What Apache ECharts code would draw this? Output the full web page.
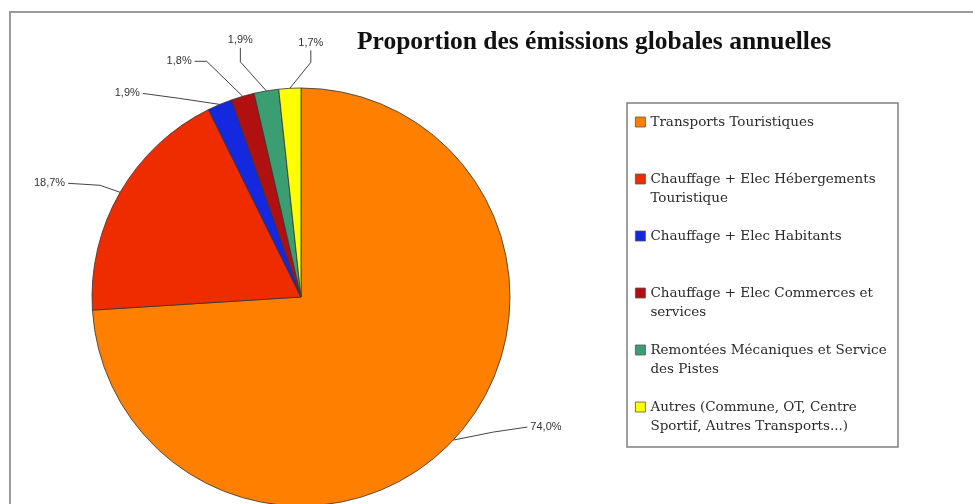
<!DOCTYPE html>
<html>
<head>
<meta charset="utf-8">
<script src="https://cdn.jsdelivr.net/npm/echarts@6/dist/echarts.min.js"></script>
<style>html,body{margin:0;padding:0;background:#fff;}#c{width:973px;height:504px;}</style>
</head>
<body>
<div id="c"></div>
<script>
var categories = [
  'Transports Touristiques',
  'Chauffage + Elec Hébergements Touristique',
  'Chauffage + Elec Habitants',
  'Chauffage + Elec Commerces et services',
  'Remontées Mécaniques et Service des Pistes',
  'Autres (Commune, OT, Centre Sportif, Autres Transports...)'
];
var legendLines = [
  ['Transports Touristiques', ''],
  ['Chauffage + Elec Hébergements', 'Touristique'],
  ['Chauffage + Elec Habitants', ''],
  ['Chauffage + Elec Commerces et', 'services'],
  ['Remontées Mécaniques et Service', 'des Pistes'],
  ['Autres (Commune, OT, Centre', 'Sportif, Autres Transports...)']
];
var values = [74.0, 18.7, 1.9, 1.8, 1.9, 1.7];
var colors = ['#FF8000', '#EE2C00', '#1428E0', '#B01010', '#3A9E72', '#FFFF00'];
var titleText = 'Proportion des émissions globales annuelles';

// label guide styling (offsets from the library's arc anchor point)
var labelGuides = [
  { end: [74, -13], elbow: [40, -8], align: 'left' },
  { end: [-52, -9], elbow: [-20, -7], align: 'right' },
  { end: [-77, -11], elbow: [-40, -6], align: 'right' },
  { end: [-48, -35], elbow: [-36, -35], align: 'right' },
  { end: [-26, -43], elbow: [-26, -29], align: 'center' },
  { end: [21, -38], elbow: [21, -26], align: 'center' }
];

var chart = echarts.init(document.getElementById('c'), null, { renderer: 'canvas' });
var LH = 19;
var data = categories.map(function (n, i) {
  return { name: n, value: values[i], itemStyle: { color: colors[i] } };
});
var option = {
  animation: false,
  backgroundColor: '#fff',
  title: {
    text: titleText,
    left: 352, top: 24,
    textStyle: { fontFamily: 'Liberation Serif', fontWeight: 'bold', fontSize: 25.5, color: '#111' }
  },
  graphic: [
    { type: 'rect', z: -10, shape: { x: 10, y: 12, width: 1200, height: 1000 }, style: { fill: 'none', stroke: '#9a9a9a', lineWidth: 2 } },
    { type: 'rect', z: -5, shape: { x: 627, y: 103, width: 271, height: 344 }, style: { fill: '#fff', stroke: '#808080', lineWidth: 1.5 } }
  ],
  legend: {
    orient: 'vertical',
    left: 635, top: 122 - 1.5 * LH,
    padding: 0,
    itemGap: 0,
    itemWidth: 10, itemHeight: 10,
    icon: 'rect',
    selectedMode: false,
    data: categories,
    formatter: function (name) {
      var l = legendLines[categories.indexOf(name)];
      return ' \n' + l[0] + '\n' + (l[1] || ' ');
    },
    itemStyle: { borderColor: '#555', borderWidth: 0.8 },
    textStyle: { fontFamily: 'DejaVu Serif', fontSize: 13.5, color: '#2a2a2a', lineHeight: LH }
  },
  series: [{
    type: 'pie',
    center: [301, 297],
    radius: 209,
    startAngle: 90,
    clockwise: true,
    avoidLabelOverlap: false,
    emphasis: { disabled: true },
    itemStyle: { borderColor: '#333', borderWidth: 0.8 },
    label: {
      show: true, position: 'outside',
      fontFamily: 'Liberation Sans', fontSize: 11, color: '#333',
      formatter: function (p) { return p.value.toFixed(1).replace('.', ',') + '%'; }
    },
    labelLine: { show: true, length: 10, length2: 10, lineStyle: { color: '#444', width: 1 } },
    labelLayout: function (p) {
      var g = labelGuides[p.dataIndex];
      var a = p.labelLinePoints[0];
      var e = [a[0] + g.end[0], a[1] + g.end[1]];
      var m = [a[0] + g.elbow[0], a[1] + g.elbow[1]];
      var r = { align: g.align, labelLinePoints: [a, m, e] };
      if (g.align === 'right') { r.x = e[0] - 3; r.y = e[1]; r.verticalAlign = 'middle'; }
      else if (g.align === 'left') { r.x = e[0] + 3; r.y = e[1]; r.verticalAlign = 'middle'; }
      else { r.x = e[0]; r.y = e[1] - 2; r.verticalAlign = 'bottom'; }
      return r;
    },
    data: data
  }]
};
chart.setOption(option);
</script>
</body>
</html>
